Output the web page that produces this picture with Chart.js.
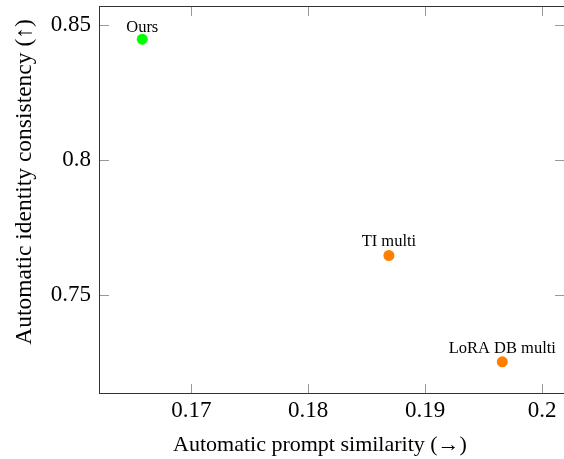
<!DOCTYPE html>
<html>
<head>
  <title>Prompt similarity vs identity consistency</title>
  <script src="https://cdn.jsdelivr.net/npm/chart.js"></script>
  <style>
    body { margin: 0; background: #fff; }
  </style>
</head>
<body>
  <canvas id="chart" width="564" height="459"></canvas>

  <script>

const methods = ['Ours', 'TI multi', 'LoRA DB multi'];
const promptSimilarity = [0.1658, 0.1869, 0.1966];
const identityConsistency = [0.8447, 0.7646, 0.7252];
const pointColors = ['#00ff00', '#ff7f00', '#ff7f00'];

const xTickValues = [0.17, 0.18, 0.19, 0.2];
const xTickLabels = ['0.17', '0.18', '0.19', '0.2'];
const yTickValues = [0.75, 0.8, 0.85];
const yTickLabels = ['0.75', '0.8', '0.85'];

const xTitle = 'Automatic prompt similarity (\u2192)';
const yTitle = 'Automatic identity consistency (\u2191)';

const serif = '"Liberation Serif", "DejaVu Serif", serif';

// box + inward ticks on every side, axis titles, and the text above each point
// (the right edge of the box sits just past the canvas, as in the cropped original)
const framePlugin = {
  id: 'frame',
  afterDatasetsDraw(chart) {
    const ctx = chart.ctx;
    const a = chart.chartArea;
    const xs = chart.scales.x;
    const ys = chart.scales.y;
    const len = 10;
    const right = a.right + 1;

    ctx.save();
    ctx.strokeStyle = '#999';
    ctx.lineWidth = 1;
    ctx.beginPath();
    xTickValues.forEach(v => {
      const px = Math.round(xs.getPixelForValue(v)) + 0.5;
      ctx.moveTo(px, a.bottom); ctx.lineTo(px, a.bottom - len);
      ctx.moveTo(px, a.top); ctx.lineTo(px, a.top + len);
    });
    yTickValues.forEach(v => {
      const py = Math.round(ys.getPixelForValue(v)) + 0.5;
      ctx.moveTo(a.left, py); ctx.lineTo(a.left + len, py);
      ctx.moveTo(right, py); ctx.lineTo(right - len, py);
    });
    ctx.stroke();

    ctx.strokeStyle = '#333';
    ctx.strokeRect(Math.round(a.left) + 0.5, Math.round(a.top) + 0.5,
                   Math.round(right - a.left) - 1, Math.round(a.bottom - a.top) - 1);

    ctx.fillStyle = '#000';
    ctx.textAlign = 'center';
    ctx.textBaseline = 'alphabetic';

    ctx.font = '22px ' + serif;
    ctx.fillText(xTitle, 320, 451);

    ctx.save();
    ctx.translate(31, 182);
    ctx.rotate(-Math.PI / 2);
    ctx.font = '23.5px ' + serif;
    ctx.fillText(yTitle, 0, 0);
    ctx.restore();

    ctx.font = '16.5px ' + serif;
    const meta = chart.getDatasetMeta(0);
    meta.data.forEach((pt, i) => {
      const gap = i === 0 ? 7.5 : 9;
      ctx.fillText(methods[i], pt.x, pt.y - gap);
    });
    ctx.restore();
  }
};

const ctx = document.getElementById('chart').getContext('2d');

new Chart(ctx, {
  type: 'scatter',
  data: {
    datasets: [
      {
        label: 'methods',
        data: promptSimilarity.map((x, i) => ({ x: x, y: identityConsistency[i] })),
        backgroundColor: pointColors,
        borderWidth: 0,
        pointRadius: 5.5
      }
    ]
  },
  options: {
    responsive: false,
    animation: false,
    layout: { autoPadding: false, padding: { top: 6, right: 0, left: 0, bottom: 0 } },
    plugins: {
      legend: { display: false },
      tooltip: { enabled: false }
    },
    scales: {
      x: {
        type: 'linear',
        position: 'bottom',
        min: 0.1621,
        max: 0.20188,
        afterBuildTicks: s => { s.ticks = xTickValues.map(v => ({ value: v })); },
        afterFit: s => { s.height = 65; s.paddingLeft = 0; s.paddingRight = 0; },
        grid: { display: false, drawTicks: false },
        border: { display: false },
        ticks: {
          padding: 3,
          color: '#000',
          maxRotation: 0,
          font: { family: serif, size: 23 },
          callback: v => xTickLabels[xTickValues.indexOf(v)]
        }
      },
      y: {
        type: 'linear',
        position: 'left',
        min: 0.7133,
        max: 0.857,
        afterBuildTicks: s => { s.ticks = yTickValues.map(v => ({ value: v })); },
        afterFit: s => { s.width = 99; s.paddingTop = 0; s.paddingBottom = 0; },
        grid: { display: false, drawTicks: false },
        border: { display: false },
        ticks: {
          padding: 8,
          color: '#000',
          font: { family: serif, size: 23 },
          callback: v => yTickLabels[yTickValues.indexOf(v)]
        }
      }
    }
  },
  plugins: [framePlugin]
});
  </script>
</body>
</html>
